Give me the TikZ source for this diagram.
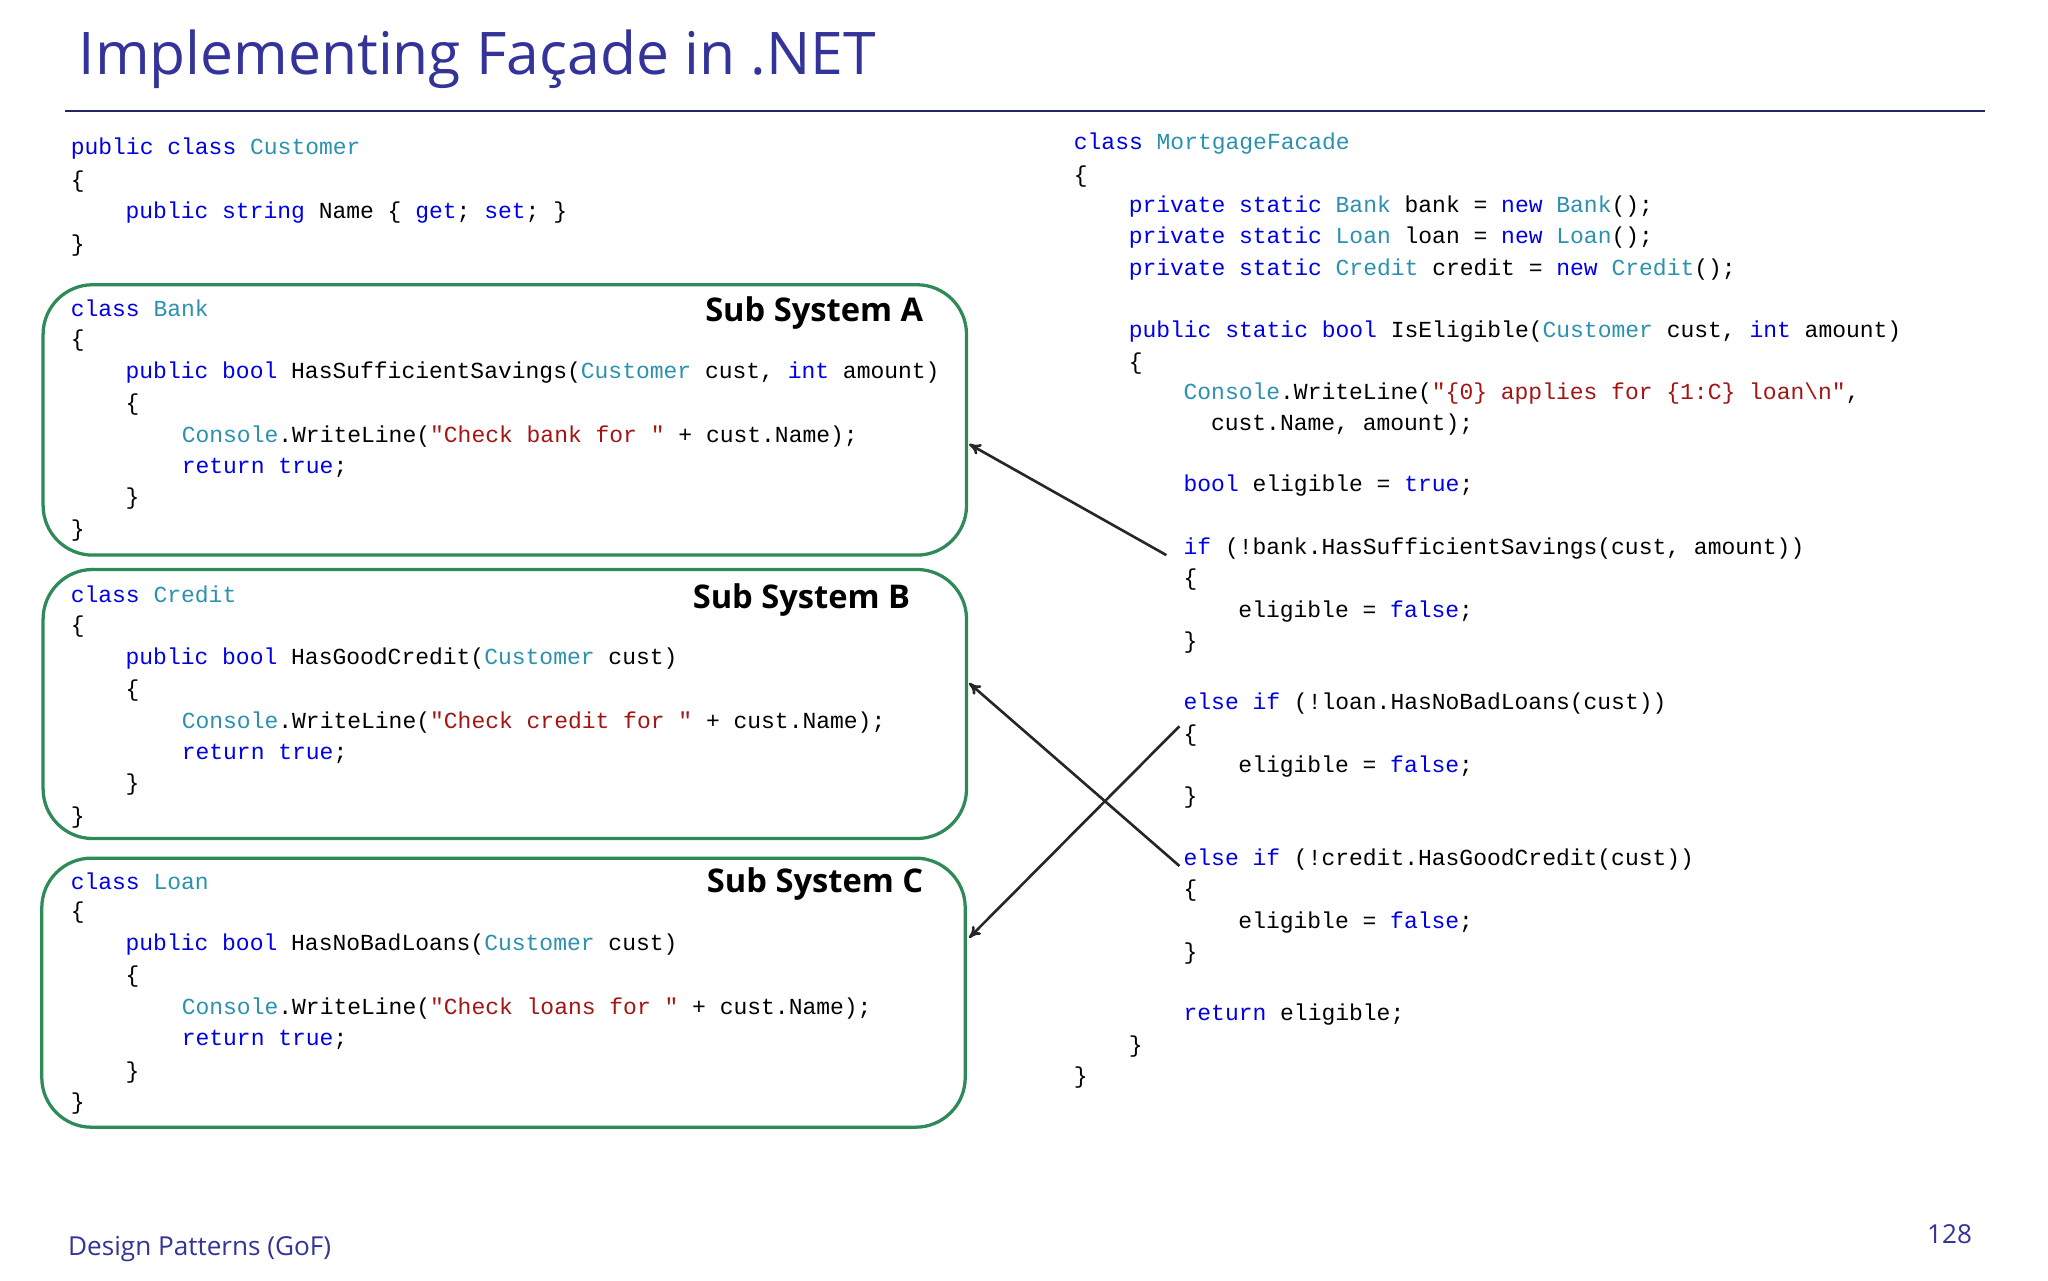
\documentclass[tikz,border=0pt]{standalone}
\usepackage{fontspec}
\setmainfont{Open Sans}
\setmonofont{Liberation Mono}
\usetikzlibrary{arrows.meta}
\definecolor{kw}{RGB}{0,0,230}
\definecolor{ty}{RGB}{43,145,175}
\definecolor{st}{RGB}{163,21,21}
\definecolor{ttl}{RGB}{51,51,153}
\definecolor{grn}{RGB}{46,139,87}
\newcommand{\kw}[1]{\textcolor{kw}{#1}}
\newcommand{\ty}[1]{\textcolor{ty}{#1}}
\newcommand{\st}[1]{\textcolor{st}{#1}}
\newcommand{\cl}[3]{\node[codeline] at (#1,#2) {#3};}
\tikzset{
 codeline/.style={anchor=west,inner sep=0pt,font=\ttfamily\fontsize{17.6}{20}\selectfont},
 subsys/.style={draw=grn,line width=2.5pt,rounded corners=38pt},
 sslabel/.style={anchor=east,inner sep=0pt,font=\bfseries\fontsize{25}{28}\selectfont},
 link/.style={draw=black!85,line width=2pt,-{To[length=9pt,width=9pt]}}
}
\begin{document}
\begin{tikzpicture}[x=1pt,y=-1pt]
\useasboundingbox (0,0) rectangle (1568,980);
\node[anchor=west,inner sep=0pt,text=ttl,font=\fontsize{45}{50}\selectfont] (title) at (60,45) {Implementing Façade in .NET};
\draw[ttl!70!black,line width=1.5pt] (50,85) -- (1520,85);
% boxes
\draw[subsys] (33,218) rectangle (740,425);
\draw[subsys] (33,436) rectangle (740,642);
\draw[subsys] (32,657) rectangle (739,863);
\node[sslabel] (ssa) at (707,240) {Sub System A};
\node[sslabel] (ssb) at (697,459) {Sub System B};
\node[sslabel] (ssc) at (707,677) {Sub System C};
% left code
\cl{54}{114}{\kw{public class} \ty{Customer}}
\cl{54}{139}{\{}
\cl{96}{163}{\kw{public string} Name \{ \kw{get}; \kw{set}; \}}
\cl{54}{188}{\}}
\cl{54}{236}{\kw{class} \ty{Bank}}
\cl{54}{261}{\{}
\cl{96}{285}{\kw{public bool} HasSufficientSavings(\ty{Customer} cust, \kw{int} amount)}
\cl{96}{310}{\{}
\cl{139}{334}{\ty{Console}.WriteLine(\st{"Check bank for "} + cust.Name);}
\cl{139}{358}{\kw{return true};}
\cl{96}{382}{\}}
\cl{54}{406}{\}}
\cl{54}{455}{\kw{class} \ty{Credit}}
\cl{54}{480}{\{}
\cl{96}{504}{\kw{public bool} HasGoodCredit(\ty{Customer} cust)}
\cl{96}{529}{\{}
\cl{139}{553}{\ty{Console}.WriteLine(\st{"Check credit for "} + cust.Name);}
\cl{139}{577}{\kw{return true};}
\cl{96}{601}{\}}
\cl{54}{626}{\}}
\cl{54}{675}{\kw{class} \ty{Loan}}
\cl{54}{699}{\{}
\cl{96}{723}{\kw{public bool} HasNoBadLoans(\ty{Customer} cust)}
\cl{96}{748}{\{}
\cl{139}{772}{\ty{Console}.WriteLine(\st{"Check loans for "} + cust.Name);}
\cl{139}{796}{\kw{return true};}
\cl{96}{821}{\}}
\cl{54}{845}{\}}
% right code
\cl{822}{110}{\kw{class} \ty{MortgageFacade}}
\cl{822}{135}{\{}
\cl{864}{158}{\kw{private static} \ty{Bank} bank = \kw{new} \ty{Bank}();}
\cl{864}{182}{\kw{private static} \ty{Loan} loan = \kw{new} \ty{Loan}();}
\cl{864}{206}{\kw{private static} \ty{Credit} credit = \kw{new} \ty{Credit}();}
\cl{864}{254}{\kw{public static bool} IsEligible(\ty{Customer} cust, \kw{int} amount)}
\cl{864}{278}{\{}
\cl{906}{301}{\ty{Console}.WriteLine(\st{"\{0\} applies for \{1:C\} loan\textbackslash n"},}
\cl{927}{325}{cust.Name, amount);}
\cl{906}{372}{\kw{bool} eligible = \kw{true};}
\cl{906}{420}{\kw{if} (!bank.HasSufficientSavings(cust, amount))}
\cl{906}{444}{\{}
\cl{948}{468}{eligible = \kw{false};}
\cl{906}{492}{\}}
\cl{906}{539}{\kw{else if} (!loan.HasNoBadLoans(cust))}
\cl{906}{563}{\{}
\cl{948}{587}{eligible = \kw{false};}
\cl{906}{611}{\}}
\cl{906}{658}{\kw{else if} (!credit.HasGoodCredit(cust))}
\cl{906}{682}{\{}
\cl{948}{706}{eligible = \kw{false};}
\cl{906}{730}{\}}
\cl{906}{777}{\kw{return} eligible;}
\cl{864}{801}{\}}
\cl{822}{825}{\}}
% connectors
\coordinate (fa) at (893,425); \coordinate (ta) at (742,340);
\coordinate (fb) at (903,663); \coordinate (tb) at (742,523);
\coordinate (fc) at (903,556); \coordinate (tc) at (742,718);
\draw[link] (fa) -- (ta);
\draw[link] (fb) -- (tb);
\draw[link] (fc) -- (tc);
% footer
\node[anchor=west,inner sep=0pt,text=ttl,font=\fontsize{20}{24}\selectfont] (foot) at (52,956) {Design Patterns (GoF)};
\node[anchor=east,inner sep=0pt,text=ttl,font=\fontsize{20}{24}\selectfont] (page) at (1510,945) {128};
\end{tikzpicture}
\end{document}
